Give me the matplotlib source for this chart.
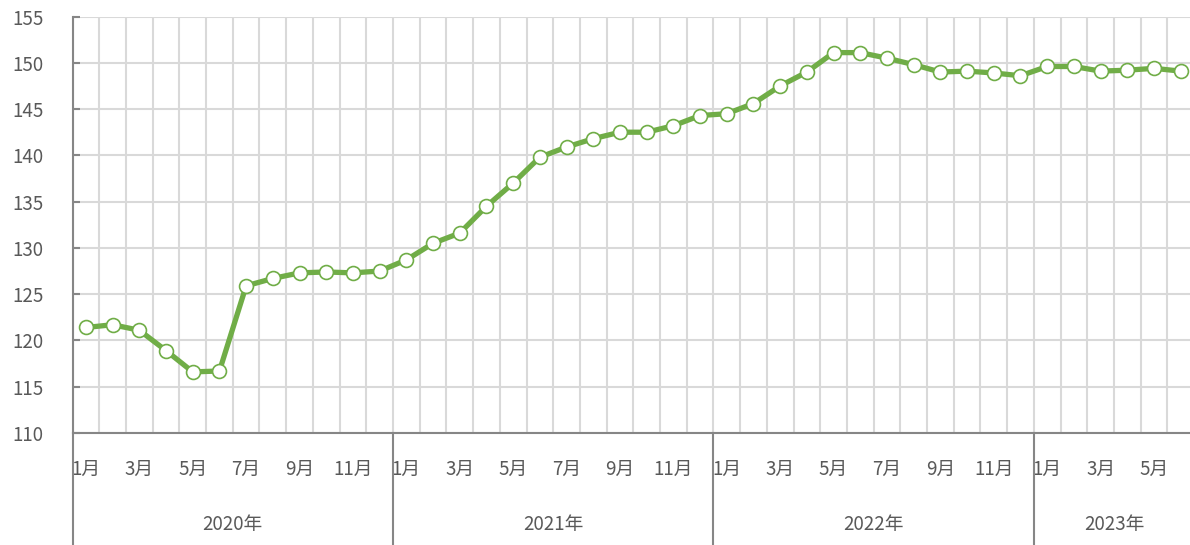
"""
    2020年1月-2023年6月 月度指数走势(折线图)
"""
from matplotlib import pyplot as plt
from matplotlib import transforms

plt.rcParams['font.family'] = ['Noto Sans CJK SC', 'DejaVu Sans']

# 数据
years = ["2020年", "2021年", "2022年", "2023年"]
months_per_year = [12, 12, 12, 6]
values = [121.4, 121.7, 121.1, 118.9, 116.6, 116.7, 125.9, 126.7, 127.3, 127.4, 127.3, 127.5,
          128.7, 130.5, 131.6, 134.5, 137.0, 139.8, 140.9, 141.8, 142.5, 142.5, 143.2, 144.3,
          144.5, 145.6, 147.5, 149.0, 151.1, 151.1, 150.5, 149.8, 149.0, 149.1, 148.9, 148.6,
          149.6, 149.6, 149.1, 149.2, 149.4, 149.1]

month_labels = []
for n in months_per_year:
    month_labels += ["%d月" % m for m in range(1, n + 1)]

green = "#70ad47"
grid_c = "#d9d9d9"
axis_c = "#868686"
text_c = "#595959"

fig = plt.figure(figsize=(11.9, 5.45), dpi=100)
ax = fig.add_axes([0.061, 0.2055, 0.9424, 0.7642])

x = list(range(len(values)))
ax.plot(x, values, color=green, linewidth=3.8, marker="o", markersize=10,
        markerfacecolor="white", markeredgecolor=green, markeredgewidth=1.2,
        zorder=3, clip_on=False)

ax.set_xlim(-0.5, len(values) - 0.5)
ax.set_ylim(110, 155)
ax.set_yticks(range(110, 156, 5))

# 月份刻度(隔月显示)
ticks = [i for i, lab in enumerate(month_labels) if int(lab[:-1]) % 2 == 1]
ax.set_xticks(ticks)
ax.set_xticklabels([month_labels[i] for i in ticks])
ax.set_xticks([i - 0.5 for i in range(len(values) + 1)], minor=True)

ax.tick_params(axis="both", which="both", length=0, labelsize=13.5, colors=text_c)
ax.tick_params(axis="y", which="major", direction="in", length=5, width=1.5,
               color=axis_c, pad=21)
ax.tick_params(axis="x", pad=19)

# 网格
ax.grid(axis="y", color=grid_c, linewidth=1.5, zorder=0)
ax.grid(axis="x", which="minor", color=grid_c, linewidth=1.5, zorder=0)
ax.set_axisbelow(True)

for s in ["top", "right"]:
    ax.spines[s].set_visible(False)
ax.spines["left"].set_color(axis_c)
ax.spines["bottom"].set_color(axis_c)
ax.spines["left"].set_linewidth(1.5)
ax.spines["bottom"].set_linewidth(1.5)

# 年份分组标签与分隔线
trans = transforms.blended_transform_factory(ax.transData, ax.transAxes)
start = 0
for yr, n in zip(years, months_per_year):
    ax.plot([start - 0.5, start - 0.5], [0, -0.4], transform=trans, color=axis_c,
            linewidth=1.5, clip_on=False)
    ax.text(start - 0.5 + n / 2, -0.22, yr, transform=trans, ha="center", va="center",
            fontsize=13.5, color=text_c)
    start += n

plt.savefig("out.png", dpi=100)
